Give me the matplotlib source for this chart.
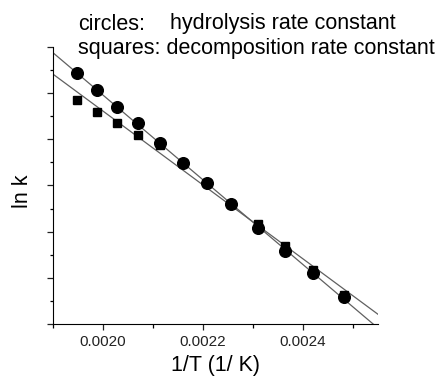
"""
Arrhenius plot: ln k vs 1/T for hydrolysis (circles) and decomposition (squares)
"""

import numpy as np
import matplotlib
matplotlib.use("Agg")
from matplotlib import pyplot as plt
from matplotlib.ticker import MultipleLocator, FormatStrFormatter

# temperatures in K (240 C down to 130 C)
temps = [513, 503, 493, 483, 473, 463, 453, 443, 433, 423, 413, 403]

# ln k, hydrolysis rate constant (circles)
lnk_hydrolysis = [-6.57, -6.93, -7.29, -7.65, -8.09, -8.51,
                  -8.95, -9.41, -9.91, -10.41, -10.89, -11.42]

# ln k, decomposition rate constant (squares)
lnk_decomp = [-7.15, -7.40, -7.65, -7.91, -8.12, -8.51,
              -8.95, -9.40, -9.84, -10.31, -10.82, -11.37]

x_ticks = [0.0020, 0.0022, 0.0024]


def arrhenius_plot():
    plt.rcParams['font.family'] = ['Liberation Sans', 'DejaVu Sans']
    fig = plt.figure(figsize=(4.42, 3.76), dpi=100)
    ax = fig.add_axes([0.1192, 0.1383, 0.7368, 0.7367])

    inv_t = 1.0 / np.array(temps, dtype=float)

    # linear fits
    xs = np.linspace(0.0019, 0.00256, 50)
    for y in (lnk_hydrolysis, lnk_decomp):
        p = np.polyfit(inv_t, y, 1)
        ax.plot(xs, np.polyval(p, xs), color='#606060', lw=0.9, zorder=1)

    ax.plot(inv_t, lnk_hydrolysis, 'o', color='black', ms=8.4, zorder=3)
    ax.plot(inv_t, lnk_decomp, 's', color='black', ms=6, zorder=4)

    ax.set_xlim(0.0019, 0.002551)
    ax.set_ylim(-12, -6)
    ax.set_xticks(x_ticks)
    ax.xaxis.set_major_formatter(FormatStrFormatter('%.4f'))
    ax.xaxis.set_minor_locator(MultipleLocator(0.0001))
    ax.yaxis.set_major_locator(MultipleLocator(1))
    ax.yaxis.set_minor_locator(MultipleLocator(0.5))
    ax.set_yticklabels([])

    ax.spines['top'].set_visible(False)
    ax.spines['right'].set_visible(False)
    ax.tick_params(which='major', length=4.5, width=0.9, labelsize=11, colors='#222222')
    ax.tick_params(which='minor', length=3, width=0.9)
    ax.tick_params(axis='y', which='minor', length=2.5)

    ax.set_xlabel('1/T (1/ K)', fontsize=15.5, labelpad=4)
    ax.set_ylabel('ln k', fontsize=15.5)
    ax.yaxis.set_label_coords(-0.06, 0.48)

    fig.text(78 / 442, 1 - 29.5 / 376, 'circles:', fontsize=15.5, va='baseline')
    fig.text(170 / 442, 1 - 29.5 / 376, 'hydrolysis rate constant', fontsize=15.5, va='baseline')
    fig.text(78 / 442, 1 - 54 / 376, 'squares: decomposition rate constant', fontsize=15.5, va='baseline')

    fig.savefig('out.png', dpi=100)


if __name__ == '__main__':
    arrhenius_plot()
